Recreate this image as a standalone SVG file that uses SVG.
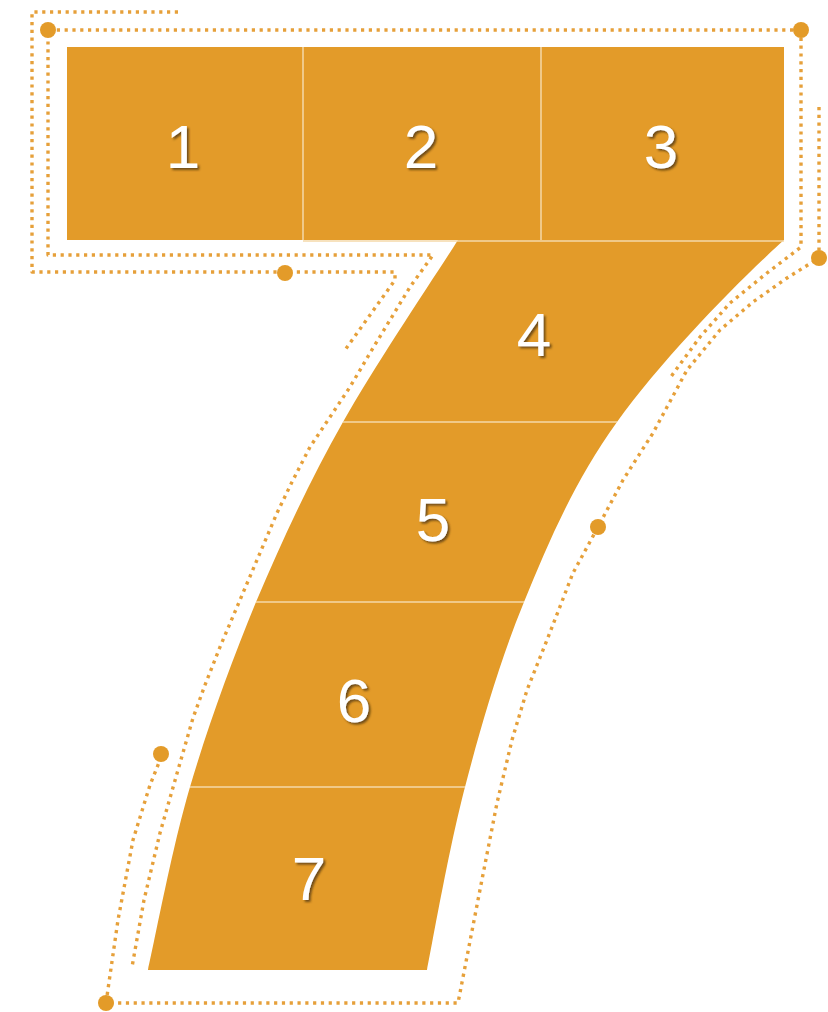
<svg xmlns="http://www.w3.org/2000/svg" width="828" height="1012" viewBox="0 0 828 1012">
  <style>
    .cell { fill: #E39B29; }
    .div { stroke: #F5D8A8; stroke-width: 1.5; fill: none; }
    .num { font-family: "Liberation Sans", Arial, sans-serif; font-size: 62px; fill: #FFFFFF; text-anchor: middle; filter: url(#shadow); }
    .dots { fill: none; stroke: #E6A03A; stroke-width: 3.4; stroke-dasharray: 3.2 4.6; stroke-linejoin: round; }
    .knob { fill: #E39B29; }
  </style>
  <defs>
    <filter id="shadow" x="-30%" y="-30%" width="160%" height="160%">
      <feDropShadow dx="2" dy="2" stdDeviation="1" flood-color="#4a3008" flood-opacity="0.75"/>
    </filter>
  </defs>
  <rect width="828" height="1012" fill="#FFFFFF"/>

  <g id="outline">
    <path class="dots" d="M178,12 H32 V272 H395 V280 L345,350"/>
    <path class="dots" d="M801,30 H48 V255 H433 L410,287 L390,320 L370,353 L350,387 L330,417 L310,447 L292,482 L277,513 L257,560 L237,607 L220,647 L205,685 L193,718 L178,770 L160,833 L144,900 L132,967"/>
    <path class="dots" d="M801,30 V247 L767,273 L730,303 L700,337 L670,378"/>
    <path class="dots" d="M819,107 V258 L787,278 L753,302 L720,330 L687,370 L653,433 L623,480 L598,527 L573,573 L547,640 L527,690 L512,740 L497,803 L478,900 L458,1003 H106 L118,920 L133,840 L150,785 L162,755"/>
    <circle class="knob" cx="48" cy="30" r="8"/>
    <circle class="knob" cx="801" cy="30" r="8"/>
    <circle class="knob" cx="819" cy="258" r="8"/>
    <circle class="knob" cx="285" cy="273" r="8"/>
    <circle class="knob" cx="598" cy="527" r="8"/>
    <circle class="knob" cx="161" cy="754" r="8"/>
    <circle class="knob" cx="106" cy="1003" r="8"/>
  </g>

  <g id="cell-1">
    <rect class="cell" x="67" y="47" width="236" height="193"/>
    <text class="num" x="183" y="168">1</text>
  </g>
  <g id="cell-2">
    <rect class="cell" x="303" y="47" width="238" height="193"/>
    <text class="num" x="421" y="168">2</text>
  </g>
  <g id="cell-3">
    <rect class="cell" x="541" y="47" width="243" height="193"/>
    <text class="num" x="661" y="168">3</text>
  </g>
  <g id="cell-4">
    <path class="cell" d="M458,240 H784 C745,275 665,355 617,422 H343 C377,362 439,270 458,240 Z"/>
    <text class="num" x="534" y="356">4</text>
  </g>
  <g id="cell-5">
    <path class="cell" d="M343,422 H617 C574,482 549,541 524,602 H256 C282,541 309,482 343,422 Z"/>
    <text class="num" x="433" y="541">5</text>
  </g>
  <g id="cell-6">
    <path class="cell" d="M256,602 H524 C499,663 481,726 465,787 H190 C208,726 231,663 256,602 Z"/>
    <text class="num" x="354" y="722">6</text>
  </g>
  <g id="cell-7">
    <path class="cell" d="M190,787 H465 C449,848 433,940 427,970 H148 C155,940 172,848 190,787 Z"/>
    <text class="num" x="309" y="900">7</text>
  </g>

  <g id="dividers">
    <line class="div" x1="303" y1="47" x2="303" y2="240"/>
    <line class="div" x1="541" y1="47" x2="541" y2="240"/>
    <line class="div" x1="303" y1="241" x2="784" y2="241"/>
    <line class="div" x1="343" y1="422" x2="617" y2="422"/>
    <line class="div" x1="256" y1="602" x2="524" y2="602"/>
    <line class="div" x1="190" y1="787" x2="465" y2="787"/>
  </g>
</svg>
